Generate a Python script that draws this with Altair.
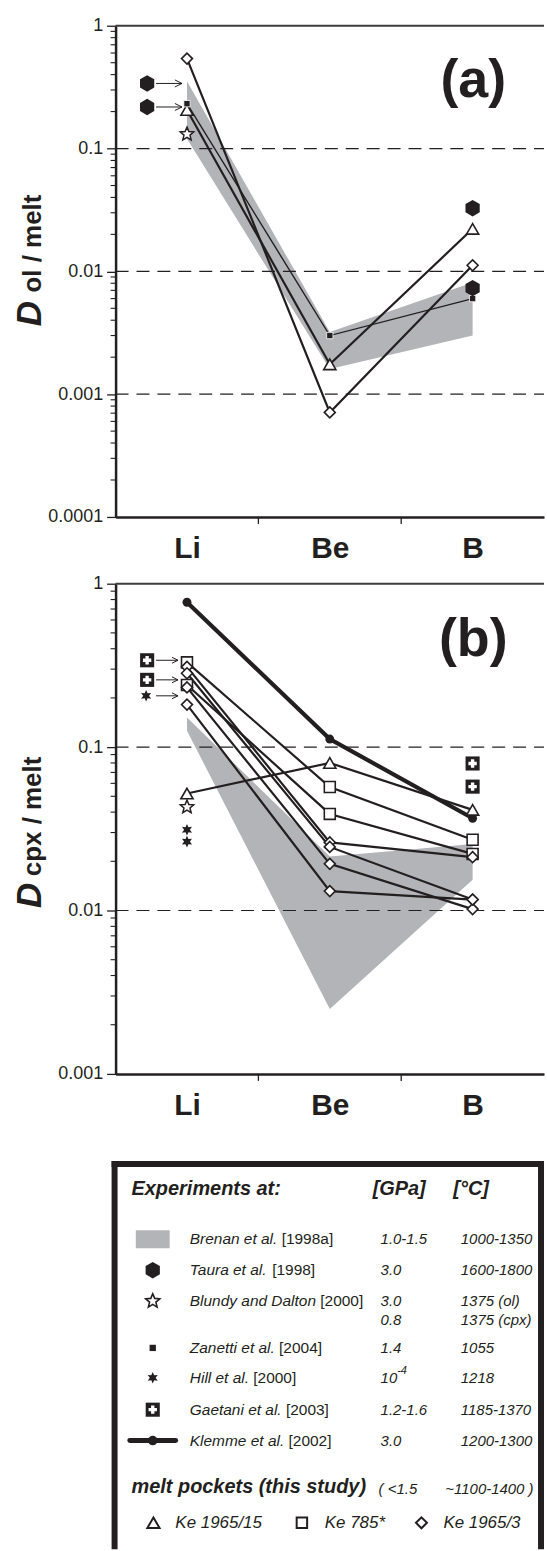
import math
import altair as alt
import pandas as pd

FONT = "Liberation Sans"
INK = "#231f20"
BAND = "#b3b4b8"

ELEMENTS = ["Li", "Be", "B"]

# ---------------- panel (a): D ol/melt ----------------
A_KE1965_15 = [0.206, 0.00175, 0.0222]      # triangles
A_KE1965_3 = [0.54, 0.00071, 0.0112]        # diamonds
A_ZANETTI = [0.232, 0.0030, 0.0060]         # small filled squares
A_BRENAN_HI = [0.353, 0.0032, 0.0081]       # grey field, upper edge
A_BRENAN_LO = [0.12, 0.0016, 0.0030]        # grey field, lower edge
A_TAURA_LI = [0.339, 0.218]                 # hexagons left of Li (arrows)
A_TAURA_B = [0.0327, 0.0073]
A_BLUNDY_LI = [0.131]

# ---------------- panel (b): D cpx/melt ----------------
B_KLEMME = [0.77, 0.112, 0.0367]
B_KE1965_15 = [0.052, 0.080, 0.0413]
B_KE785 = [[0.33, 0.057, 0.0271], [0.24, 0.039, 0.0222]]
B_KE1965_3 = [[0.31, 0.0261, 0.0212], [0.283, 0.0245, 0.01167],
              [0.232, 0.0193, 0.0102], [0.182, 0.01315, 0.01167]]
B_BRENAN_HI = [0.152, 0.0214, 0.0255]
B_BRENAN_LO = [0.126, 0.0025, 0.0154]
B_GAETANI_LI = [0.34, 0.258]
B_GAETANI_B = [0.0794, 0.0573]
B_HILL_LI_ARROW = [0.206]
B_HILL_LI = [0.0312, 0.0264]
B_BLUNDY_LI = [0.043]

# ---------------- legend content ----------------
LEG_NAMES = ["Brenan et al.", "Taura et al.", "Blundy and Dalton", "Zanetti et al.",
             "Hill et al.", "Gaetani et al.", "Klemme et al."]
LEG_YEARS = ["[1998a]", "[1998]", "[2000]", "[2004]", "[2000]", "[2003]", "[2002]"]
LEG_GPA = ["1.0-1.5", "3.0", "3.0", "1.4", "10", "1.2-1.6", "3.0"]
LEG_DEGC = ["1000-1350", "1600-1800", "1375 (ol)", "1055", "1218", "1185-1370", "1200-1300"]
LEG_BLUNDY2 = ["0.8", "1375 (cpx)"]
LEG_SAMPLES = ["Ke 1965/15", "Ke 785*", "Ke 1965/3"]

# ---------------- symbol shapes ----------------
HEX = "M0,-1L0.866,-0.5L0.866,0.5L0,1L-0.866,0.5L-0.866,-0.5Z"
ARROW = "M-1,0L1,0M0.45,-0.27L1,0L0.45,0.27"
SWATCH = "M-1,-0.53L1,-0.53L1,0.53L-1,0.53Z"


def star_path(n, r_in):
    pts = []
    for i in range(2 * n):
        ang = math.pi * i / n - math.pi / 2
        r = 1.0 if i % 2 == 0 else r_in
        x = round(r * math.cos(ang), 3) + 0.0
        y = round(r * math.sin(ang), 3) + 0.0
        pts.append(f"{x},{y}")
    return "M" + "L".join(pts) + "Z"


STAR5 = star_path(5, 0.45)
STAR6 = star_path(6, 0.5)

HELV = {' ': 278, '(': 333, ')': 333, '*': 389, '-': 333, '.': 278, '/': 278, '<': 584,
        '[': 278, ']': 278, '~': 584, 'A': 667, 'B': 667, 'D': 722, 'G': 778, 'H': 722,
        'K': 667, 'T': 611, 'Z': 611, 'a': 556, 'b': 556, 'c': 500, 'd': 556, 'e': 556,
        'h': 556, 'i': 222, 'k': 500, 'l': 222, 'm': 833, 'n': 556, 'o': 556, 'p': 556,
        'r': 333, 's': 500, 't': 278, 'u': 556, 'x': 500, 'y': 500}


def text_w(s, size):
    return sum(HELV.get(c, 556) for c in s) * size / 1000.0


ONE = pd.DataFrame({"k": [0]})
XPOS = "indexof(['Li','Be','B'], datum.element) + 0.5"


def series(vals):
    return pd.DataFrame({"element": ELEMENTS, "value": vals})


def at(el, vals):
    return pd.DataFrame({"element": [el] * len(vals), "value": list(vals)})


def line(df, w):
    return lambda X, Y: alt.Chart(df).transform_calculate(xi=XPOS).mark_line(
        color=INK, strokeWidth=w).encode(x=X, y=Y)


def sym(df, shape, size, fill=None, stroke=None, sw=0.0, xoff=0):
    kw = dict(shape=shape, size=size, opacity=1, strokeWidth=sw)
    if fill:
        kw["filled"] = True
        kw["fill"] = fill
    else:
        kw["filled"] = False
    if stroke:
        kw["stroke"] = stroke
    if xoff:
        kw["xOffset"] = xoff
    return lambda X, Y: alt.Chart(df).transform_calculate(xi=XPOS).mark_point(**kw).encode(x=X, y=Y)


def label(text, x, y, size, weight="normal", style="normal", angle=0,
          align="left", baseline="alphabetic"):
    kw = dict(font=FONT, fontSize=size, fontWeight=weight, fontStyle=style,
              align=align, baseline=baseline, color=INK)
    if angle:
        kw["angle"] = angle
    return alt.Chart(ONE).mark_text(**kw).encode(
        x=alt.value(x), y=alt.value(y), text=alt.value(text))


W = 430


def panel(lo_exp, height, hi, lo, items, sub, d_y, sub_y, tag, tag_y):
    dec = [float(f"1e{e}") for e in range(lo_exp, 1)]
    minor = [float(f"{k}e{e}") for e in range(lo_exp, 0) for k in range(2, 10)]
    X = alt.X("xi:Q", title=None,
              scale=alt.Scale(domain=[0, 3], nice=False, zero=False),
              axis=alt.Axis(values=[0.5, 1.5, 2.5], labelExpr="['Li','Be','B'][floor(datum.value)]",
                            labelFont=FONT, labelFontSize=30, labelFontWeight="bold",
                            labelColor=INK, labelPadding=17, tickSize=0, labelAngle=0,
                            domainColor=INK, domainWidth=2.5, grid=False))
    Y = alt.Y("value:Q", title=None,
              scale=alt.Scale(type="log", domain=[dec[0], 1.0], nice=False),
              axis=alt.Axis(values=dec, labelFont=FONT, labelFontSize=18,
                            labelColor=INK, labelPadding=4, tickSize=9, tickWidth=1.3,
                            tickColor=INK, domainColor=INK, domainWidth=2.5, grid=False))
    band = pd.DataFrame({"element": ELEMENTS, "value": hi, "lo": lo})
    layers = [
        alt.Chart(band).transform_calculate(xi=XPOS).mark_area(color=BAND, opacity=1).encode(
            x=X, y=Y, y2="lo:Q"),
        alt.Chart(pd.DataFrame({"value": minor})).mark_rule(color=INK, strokeWidth=1.1).encode(
            y=Y, x=alt.value(-5), x2=alt.value(0)),
        alt.Chart(pd.DataFrame({"value": dec[1:-1]})).mark_rule(
            color=INK, strokeWidth=1.2, strokeDash=[13, 8]).encode(
            y=Y, x=alt.value(0), x2=alt.value(W)),
        alt.Chart(pd.DataFrame({"value": [1.0]})).mark_rule(
            color="#3c3c3c", strokeWidth=2).encode(y=Y, x=alt.value(0), x2=alt.value(W)),
        alt.Chart(pd.DataFrame({"xi": [1.0, 2.0]})).mark_rule(
            color=INK, strokeWidth=1.3).encode(x=X, y=alt.value(height), y2=alt.value(height + 7)),
    ]
    layers += [f(X, Y) for f in items]
    layers += [
        label("D", -75, d_y, 35, "bold", "italic", angle=270),
        label(sub, -75, sub_y, 26, "bold", angle=270),
        label(tag, 359, tag_y, 54, "bold", align="center"),
    ]
    return alt.layer(*layers).properties(width=W, height=height)


# ---------------- panel (a) ----------------
a_items = [
    line(series(A_KE1965_3), 2.2),
    line(series(A_KE1965_15), 2.2),
    line(series(A_ZANETTI), 1.4),
    sym(series(A_KE1965_3), "diamond", 121, "white", INK, 1.6),
    sym(series(A_KE1965_15), "triangle-up", 150, "white", INK, 1.6),
    sym(series(A_ZANETTI), "square", 40, INK, "white", 0.8),
    sym(at("Li", A_TAURA_LI), HEX, 272, INK, xoff=-40),
    sym(at("Li", A_TAURA_LI), ARROW, 676, None, INK, 1.0, xoff=-18),
    sym(at("Li", A_BLUNDY_LI), STAR5, 200, "white", INK, 1.5),
    sym(at("B", A_TAURA_B), HEX, 272, INK),
]
pa = panel(-4, 493, A_BRENAN_HI, A_BRENAN_LO, a_items, "ol / melt",
           301.7, 267.7, "(a)", 71.7)

# ---------------- panel (b) ----------------
b_items = [line(series(B_KLEMME), 4.2)]
b_items += [line(series(v), 2.2) for v in B_KE1965_3]
b_items += [line(series(v), 2.2) for v in B_KE785]
b_items += [line(series(B_KE1965_15), 2.2)]
b_items += [sym(series(B_KLEMME), "circle", 80, INK)]
b_items += [sym(series(v), "square", 121, "white", INK, 1.6) for v in B_KE785]
b_items += [sym(series(v), "diamond", 121, "white", INK, 1.6) for v in B_KE1965_3]
b_items += [
    sym(series(B_KE1965_15), "triangle-up", 150, "white", INK, 1.6),
    sym(at("Li", B_GAETANI_LI), "square", 200, INK, xoff=-40),
    sym(at("Li", B_GAETANI_LI), "cross", 70, "white", xoff=-40),
    sym(at("Li", B_HILL_LI_ARROW), STAR6, 135, INK, xoff=-41),
    sym(at("Li", B_GAETANI_LI + B_HILL_LI_ARROW), ARROW, 484, None, INK, 1.0, xoff=-20),
    sym(at("Li", B_BLUNDY_LI), STAR5, 200, "white", INK, 1.5),
    sym(at("Li", B_HILL_LI), STAR6, 135, INK),
    sym(at("B", B_GAETANI_B), "square", 200, INK),
    sym(at("B", B_GAETANI_B), "cross", 70, "white"),
]
pb = panel(-3, 492, B_BRENAN_HI, B_BRENAN_LO, b_items, "cpx / melt",
           325.5, 293.5, "(b)", 72.5)

# ---------------- legend ----------------
LW = 427
LEG_TOP = 1131.0          # canvas y of the legend area's origin
LH = int(1551 - LEG_TOP - 1)
FRAME_Y = 1163.5 - LEG_TOP
ROW0 = 1189 - LEG_TOP
ROWH = 31.0
LX = alt.Scale(domain=[0, LW], nice=False, zero=False)
LY = alt.Scale(domain=[-ROW0 / ROWH, (LH - ROW0) / ROWH], reverse=True, nice=False, zero=False)
LXE = alt.X("px:Q", scale=LX, axis=None)
LYE = alt.Y("r:Q", scale=LY, axis=None)

ROWS = [1.613, 2.613, 3.613, 5.129, 6.097, 7.129, 8.129]
ROW_BLUNDY2 = 4.226
ROW_MELT = 9.645
ROW_KE = 10.79
SYM_X, LAB_X, GPA_X, DEGC_X = 37.3, 74.5, 266.0, 346.5
SIZE_LAB = 15.5


def ltext(df, size, weight="normal", style="italic"):
    return alt.Chart(df).mark_text(font=FONT, fontSize=size, fontWeight=weight,
                                   fontStyle=style, align="left", baseline="middle",
                                   color=INK).encode(x=LXE, y=LYE, text="text:N")


def lsym(x, row, shape, size, fill=None, stroke=None, sw=0.0):
    kw = dict(shape=shape, size=size, opacity=1, strokeWidth=sw)
    if fill:
        kw["filled"] = True
        kw["fill"] = fill
    else:
        kw["filled"] = False
    if stroke:
        kw["stroke"] = stroke
    return alt.Chart(pd.DataFrame({"px": [x], "r": [row]})).mark_point(**kw).encode(x=LXE, y=LYE)


hdr = pd.DataFrame({"px": [16, 258, 339, 16], "r": [0, 0, 0, ROW_MELT],
                    "text": ["Experiments at:", "[GPa]", "[°C]", "melt pockets (this study)"]})
names = pd.DataFrame({"px": [LAB_X] * 7, "r": ROWS, "text": LEG_NAMES})
years = pd.DataFrame({"px": [LAB_X + text_w(n + " ", SIZE_LAB) for n in LEG_NAMES],
                      "r": ROWS, "text": LEG_YEARS})
vals = pd.DataFrame({"px": [GPA_X] * 8 + [DEGC_X] * 8,
                     "r": ROWS + [ROW_BLUNDY2] + ROWS + [ROW_BLUNDY2],
                     "text": LEG_GPA + [LEG_BLUNDY2[0]] + LEG_DEGC + [LEG_BLUNDY2[1]]})
sup = pd.DataFrame({"px": [GPA_X + text_w("10", 15)], "r": [ROWS[4] - 0.22], "text": ["-4"]})
melt_vals = pd.DataFrame({"px": [264, 331], "r": [ROW_MELT + 0.05] * 2,
                          "text": ["( <1.5", "~1100-1400 )"]})
ke = pd.DataFrame({"px": [60, 210, 329], "r": [ROW_KE] * 3, "text": LEG_SAMPLES})
klemme_line = pd.DataFrame({"px": [SYM_X - 23], "px2": [SYM_X + 23], "r": [ROWS[6]]})

frame = [
    alt.Chart(ONE).mark_rule(color=INK, strokeWidth=6).encode(
        x=alt.value(-4), x2=alt.value(LW + 3), y=alt.value(FRAME_Y)),
    alt.Chart(ONE).mark_rule(color=INK, strokeWidth=6).encode(
        x=alt.value(-1), y=alt.value(FRAME_Y - 3), y2=alt.value(LH)),
    alt.Chart(ONE).mark_rule(color=INK, strokeWidth=6).encode(
        x=alt.value(LW), y=alt.value(FRAME_Y - 3), y2=alt.value(LH)),
]

leg_layers = frame + [
    lsym(SYM_X, ROWS[0], SWATCH, 34 * 34, BAND),
    lsym(SYM_X, ROWS[1], HEX, 272, INK),
    lsym(SYM_X, ROWS[2], STAR5, 220, "white", INK, 1.6),
    lsym(SYM_X, ROWS[3], "square", 40, INK),
    lsym(SYM_X, ROWS[4], STAR6, 135, INK),
    lsym(SYM_X, ROWS[5], "square", 200, INK),
    lsym(SYM_X, ROWS[5], "cross", 70, "white"),
    alt.Chart(klemme_line).mark_rule(color=INK, strokeWidth=5, strokeCap="round").encode(
        x=LXE, x2="px2:Q", y=LYE),
    lsym(SYM_X, ROWS[6], "circle", 90, INK),
    lsym(38, ROW_KE, "triangle-up", 150, "white", INK, 2.0),
    lsym(187, ROW_KE, "square", 110, "white", INK, 2.0),
    lsym(307, ROW_KE, "diamond", 121, "white", INK, 2.0),
    ltext(hdr, 20, "bold", "italic"),
    ltext(names, SIZE_LAB),
    ltext(years, SIZE_LAB, style="normal"),
    ltext(vals, 15),
    ltext(sup, 11),
    ltext(melt_vals, 15),
    ltext(ke, 17),
]
leg = alt.layer(*leg_layers).properties(width=LW, height=LH)

chart = alt.vconcat(pa, pb, leg, spacing=11).properties(
    padding={"left": 13, "top": 14, "right": 0, "bottom": 0}
).configure_view(strokeWidth=0, stroke="transparent")

chart.save("out.html", embed_options={"renderer": "svg", "actions": False})
